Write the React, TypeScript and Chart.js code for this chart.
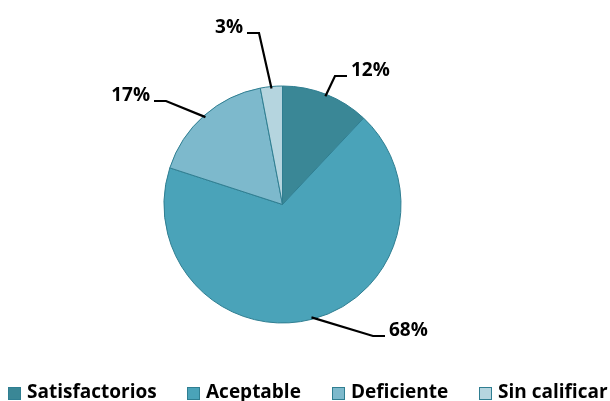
import React, { useEffect, useRef } from "react";
import { Chart, registerables } from "chart.js";

Chart.register(...registerables);

const categories = ["Satisfactorios", "Aceptable", "Deficiente", "Sin calificar"];
const percentages = [12, 68, 17, 3];
const sliceColors = ["#3A8796", "#4AA3B9", "#7DB9CC", "#B5D5DF"];
const borderColor = "#2F7E91";

const FONT = "bold 19px 'Open Sans', Lato, sans-serif";

// elbow points for leader lines and direction of the label (1 = right, -1 = left)
const labelAnchors = [
  { x: 335, y: 76, dir: 1 },
  { x: 373, y: 336, dir: 1 },
  { x: 166, y: 101, dir: -1 },
  { x: 259, y: 33, dir: -1 },
];

const legendBoxX = [8, 187, 332, 479];

const leaderPlugin = {
  id: "leaders",
  afterDatasetsDraw(chart: any) {
    const ctx = chart.ctx;
    const meta = chart.getDatasetMeta(0);
    const data = chart.data.datasets[0].data as number[];
    ctx.save();
    ctx.strokeStyle = "#000";
    ctx.lineWidth = 2.2;
    ctx.fillStyle = "#000";
    ctx.font = FONT;
    ctx.textBaseline = "alphabetic";
    meta.data.forEach((arc: any, i: number) => {
      const { x, y, startAngle, endAngle, outerRadius } = arc.getProps(
        ["x", "y", "startAngle", "endAngle", "outerRadius"],
        true
      );
      const mid = (startAngle + endAngle) / 2;
      const r = outerRadius - 2;
      const sx = x + Math.cos(mid) * r;
      const sy = y + Math.sin(mid) * r;
      const a = labelAnchors[i];
      const ex = a.x + a.dir * 12;
      ctx.beginPath();
      ctx.moveTo(sx, sy);
      ctx.lineTo(a.x, a.y);
      ctx.lineTo(ex, a.y);
      ctx.stroke();
      const txt = data[i] + "%";
      ctx.textAlign = a.dir > 0 ? "left" : "right";
      ctx.fillText(txt, ex + a.dir * 4, a.y);
    });
    ctx.restore();
  },
};

const legendPlugin = {
  id: "customLegend",
  afterDraw(chart: any) {
    const ctx = chart.ctx;
    const labels = chart.data.labels as string[];
    const colors = chart.data.datasets[0].backgroundColor as string[];
    ctx.save();
    ctx.font = FONT;
    ctx.textBaseline = "alphabetic";
    ctx.textAlign = "left";
    labels.forEach((lab, i) => {
      const bx = legendBoxX[i];
      ctx.fillStyle = colors[i];
      ctx.fillRect(bx + 0.5, 387.5, 12, 12);
      ctx.strokeStyle = borderColor;
      ctx.lineWidth = 1;
      ctx.strokeRect(bx + 0.5, 387.5, 12, 12);
      ctx.fillStyle = "#000";
      ctx.fillText(lab, bx + 19, 398);
    });
    ctx.restore();
  },
};

export default function App() {
  const ref = useRef<HTMLCanvasElement>(null);
  useEffect(() => {
    if (!ref.current) return;
    const chart = new Chart(ref.current, {
      type: "pie",
      data: {
        labels: categories,
        datasets: [
          {
            data: percentages,
            backgroundColor: sliceColors,
            borderColor: borderColor,
            borderWidth: 1,
          },
        ],
      },
      options: {
        responsive: false,
        animation: false,
        radius: 118.5,
        layout: { padding: { left: 0, right: 45, top: 8, bottom: 0 } },
        plugins: {
          legend: { display: false },
          tooltip: { enabled: false },
        },
      } as any,
      plugins: [leaderPlugin, legendPlugin],
    });
    return () => chart.destroy();
  }, []);
  return (
    <div style={{ position: "fixed", left: 0, top: 0, width: 610, height: 401, background: "#fff", overflow: "hidden" }}>
      <canvas ref={ref} width={610} height={401} style={{ width: 610, height: 401, display: "block" }} />
    </div>
  );
}
